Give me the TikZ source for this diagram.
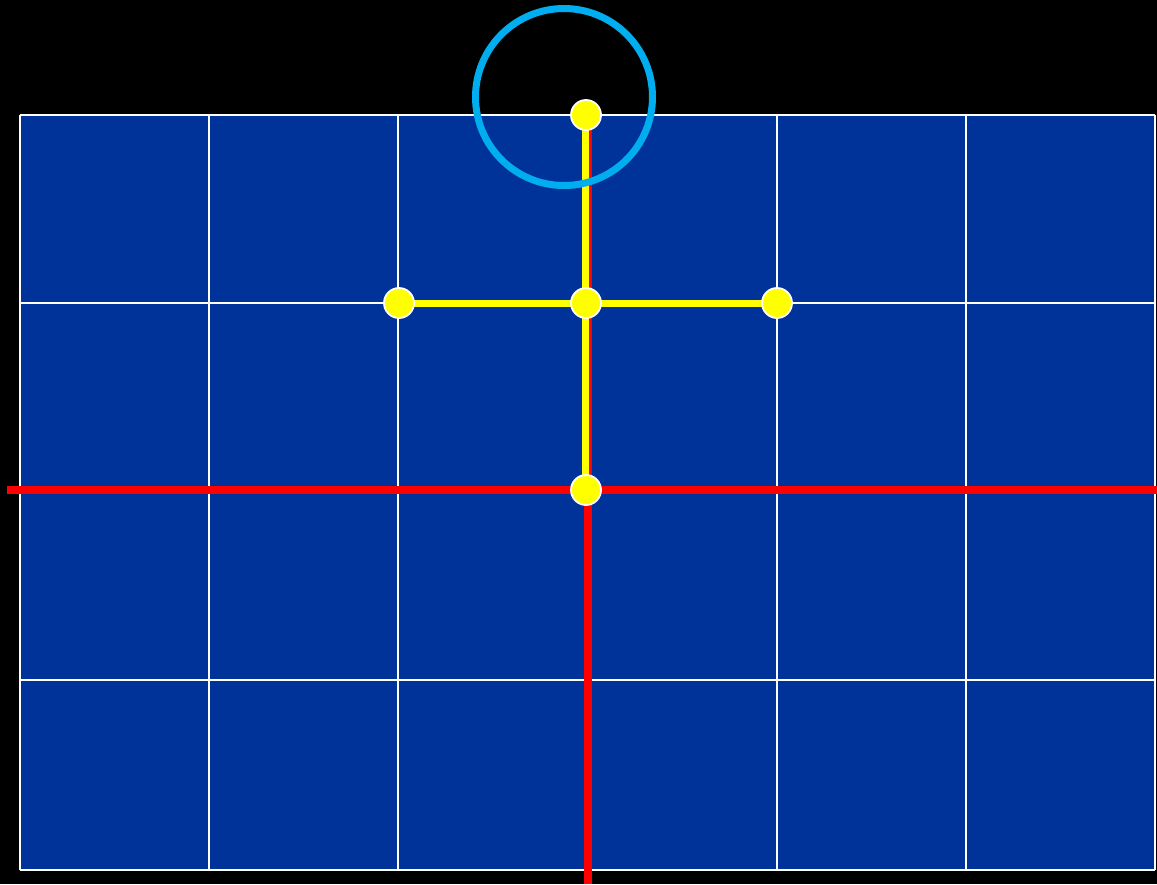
\documentclass[tikz,border=0pt]{standalone}
\definecolor{panel}{RGB}{0,51,153}
\definecolor{ring}{RGB}{0,174,239}
\definecolor{ylw}{RGB}{255,255,0}
\definecolor{rd}{RGB}{255,0,0}
\pgfdeclarelayer{bg}
\pgfdeclarelayer{mid}
\pgfsetlayers{bg,mid,main}
\tikzset{
  gridline/.style={draw=white, line width=1.8pt},
  redline/.style={draw=rd, line width=8pt},
  yelline/.style={draw=ylw, line width=7pt},
  dot/.style={circle, fill=ylw, draw=white, line width=1.8pt, minimum size=30pt, inner sep=0pt},
  ringstyle/.style={draw=ring, line width=7pt}
}
\begin{document}
\begin{tikzpicture}[x=1pt,y=-1pt]
\useasboundingbox (0,0) rectangle (1157,884);
\begin{pgfonlayer}{bg}
\fill[black] (0,0) rectangle (1157,884);
\fill[panel] (20,115) rectangle (1155,870);
\foreach \x in {20,209,398,587,777,966,1155} \draw[gridline] (\x,115) -- (\x,870);
\foreach \y in {115,303,491,680,870} \draw[gridline] (20,\y) -- (1155,\y);
\coordinate (hl) at (7,490);
\coordinate (hr) at (1157,490);
\coordinate (vt) at (588,115);
\coordinate (vb) at (588,884);
\draw[redline] (hl) -- (hr);
\draw[redline] (vt) -- (vb);
\end{pgfonlayer}
% dots
\node[dot] (top) at (586,115) {};
\node[dot] (cen) at (586,303) {};
\node[dot] (lft) at (399,303) {};
\node[dot] (rgt) at (777,303) {};
\node[dot] (org) at (586,490) {};
\begin{pgfonlayer}{mid}
\draw[yelline] ([xshift=-1pt]top.center) -- ([xshift=-1pt]org.center);
\draw[yelline] (lft.center) -- (rgt.center);
\end{pgfonlayer}
% ring
\node[circle, ringstyle, minimum size=177pt, inner sep=0pt] (ringnode) at (564,97) {};
\end{tikzpicture}
\end{document}
